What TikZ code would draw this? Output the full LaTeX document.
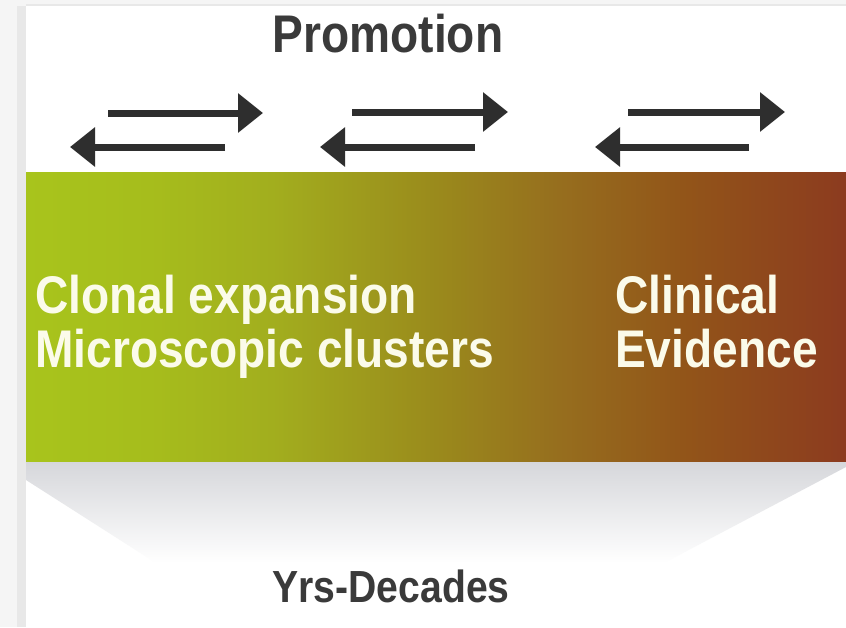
\documentclass[tikz,border=0pt]{standalone}
\usepackage{fontspec}
\usetikzlibrary{arrows.meta}
\newfontfamily\condsans{Liberation Sans}[FakeStretch=0.87]

\definecolor{bandA}{HTML}{A8C41C}
\definecolor{bandB}{HTML}{A6BD1C}
\definecolor{bandC}{HTML}{A2AE1E}
\definecolor{bandD}{HTML}{9A8A1C}
\definecolor{bandE}{HTML}{966E1E}
\definecolor{bandF}{HTML}{925519}
\definecolor{bandG}{HTML}{8C3B1F}
\definecolor{shadowtop}{HTML}{D6D7DB}
\definecolor{arrowgray}{HTML}{2E2E2E}
\definecolor{headgray}{HTML}{3A3A3A}
\definecolor{bandtext}{HTML}{FBFBEA}
\definecolor{framelight}{HTML}{F5F5F5}
\definecolor{frameline}{HTML}{E8E8E8}

% stops 25bp..75bp span the filled path
\pgfdeclarehorizontalshading{stageband}{100bp}{%
  color(0bp)=(bandA); color(25bp)=(bandA); color(32.5bp)=(bandB);
  color(40bp)=(bandC); color(50bp)=(bandD); color(57.5bp)=(bandE);
  color(65bp)=(bandF); color(75bp)=(bandG); color(100bp)=(bandG)}

\tikzset{
  flowarrow/.style={draw=arrowgray, line width=7pt,
    -{Triangle[length=25pt,width=38pt]}},
  bandlabel/.style={anchor=base west, inner sep=0pt, text=bandtext,
    font=\condsans\bfseries\fontsize{53}{54}\selectfont},
  headlabel/.style={anchor=base, inner sep=0pt, text=headgray,
    font=\condsans\bfseries\fontsize{53}{54}\selectfont},
  footlabel/.style={anchor=base, inner sep=0pt, text=headgray,
    font=\condsans\bfseries\fontsize{45}{46}\selectfont},
}

\begin{document}
\begin{tikzpicture}[x=1pt,y=-1pt]
  \useasboundingbox (0,0) rectangle (846,627);
  \fill[white] (0,0) rectangle (846,627);

  % page frame on the top and left
  \fill[framelight] (0,0) rectangle (846,6);
  \fill[frameline] (26,4) rectangle (846,6);
  \fill[framelight] (0,0) rectangle (26,627);
  \fill[frameline] (17,6) rectangle (26,627);

  % coloured stage band
  \shade[shading=stageband] (26,172) rectangle (846,462);

  % fading shadow beneath the band
  \shade[top color=shadowtop, bottom color=white]
    (26,462) -- (846,462) -- (846,467) -- (664,563) -- (156,563) -- (26,480) -- cycle;

  % texts
  \node[headlabel] (promo) at (388,52) {Promotion};
  \node[bandlabel] (clonal) at (35,313) {Clonal expansion};
  \node[bandlabel] (micro) at (35,367) {Microscopic clusters};
  \node[bandlabel] (clin) at (615,313) {Clinical};
  \node[bandlabel] (evid) at (615,367) {Evidence};
  \node[footlabel] (years) at (391,602) {Yrs-Decades};

  % reversible steps
  \coordinate (a1s) at (108,113); \coordinate (a1e) at (263,113);
  \coordinate (b1s) at (225,147); \coordinate (b1e) at (70,147);
  \coordinate (a2s) at (352,112); \coordinate (a2e) at (508,112);
  \coordinate (b2s) at (475,147); \coordinate (b2e) at (320,147);
  \coordinate (a3s) at (628,112); \coordinate (a3e) at (785,112);
  \coordinate (b3s) at (749,147); \coordinate (b3e) at (595,147);

  \draw[flowarrow] (a1s) -- (a1e);
  \draw[flowarrow] (b1s) -- (b1e);
  \draw[flowarrow] (a2s) -- (a2e);
  \draw[flowarrow] (b2s) -- (b2e);
  \draw[flowarrow] (a3s) -- (a3e);
  \draw[flowarrow] (b3s) -- (b3e);
\end{tikzpicture}
\end{document}
